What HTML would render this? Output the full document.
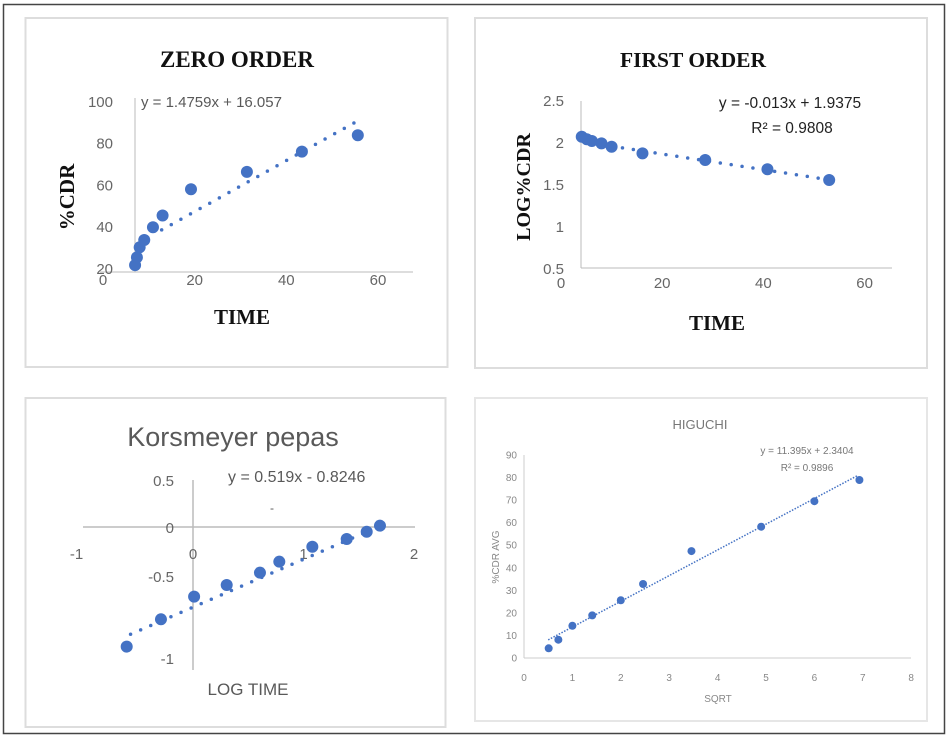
<!DOCTYPE html>
<html><head><meta charset="utf-8">
<style>
html,body{margin:0;padding:0;background:#fff;}
svg{display:block;}
.ser{font-family:"Liberation Serif",serif;font-weight:bold;fill:#111;}
.sans{font-family:"Liberation Sans",sans-serif;fill:#595959;}
</style></head>
<body>
<svg id="s" width="951" height="738" viewBox="0 0 951 738" xmlns="http://www.w3.org/2000/svg">
<rect x="3.5" y="4.5" width="941" height="729" fill="#fff" stroke="#444" stroke-width="1.5"/>
<rect x="25.5" y="18" width="422" height="349" fill="none" stroke="#ddd" stroke-width="2"/>
<rect x="475" y="18" width="452" height="350" fill="none" stroke="#ddd" stroke-width="2"/>
<rect x="25.5" y="398" width="420" height="329" fill="none" stroke="#ddd" stroke-width="2"/>
<rect x="475" y="398" width="452" height="323" fill="none" stroke="#e6e6e6" stroke-width="2"/>
<g id="g1"></g><g id="g2"></g><g id="g3"></g><g id="g4"></g>
</svg>
<script>
// Zero order
const zTime=[7.0,7.4,8.0,9.0,10.9,13.0,19.2,31.4,43.4,55.6];
const zCdr=[21.4,25.1,29.9,33.4,39.5,45.1,57.7,66,75.7,83.5];
const zTrend=[12.8,55.2];const zCoef=[1.22,22.6];
const zXTicks=[0,20,40,60];const zYTicks=[20,40,60,80,100];
// First order
const fTime=[4.1,5.1,6.1,8.0,10.0,16.1,28.5,40.8,53.0];
const fLog=[2.063,2.032,2.012,1.984,1.944,1.865,1.786,1.675,1.548];
const fTrend=[10,53];const fCoef=[-0.0093,2.043];
const fXTicks=[0,20,40,60];const fYTicks=[0.5,1,1.5,2,2.5];
// Korsmeyer
const kLogT=[-0.6,-0.29,0.01,0.305,0.606,0.781,1.08,1.391,1.572,1.692];
const kLogC=[-1.273,-0.982,-0.741,-0.617,-0.486,-0.369,-0.21,-0.128,-0.05,0.014];
const kTrend=[-0.565,1.572];const kCoef=[0.51,-0.853];
const kXTicks=[-1,0,1,2];const kYTicks=[0.5,0,-0.5,-1];
// Higuchi
const hSqrt=[0.51,0.71,1.0,1.41,2.0,2.46,3.46,4.9,6.0,6.93];
const hCdr=[4.3,8.1,14.3,18.9,25.6,32.8,47.4,58.2,69.5,78.9];
const hTrend=[0.5,6.9];const hCoef=[11.395,2.3404];
const hXTicks=[0,1,2,3,4,5,6,7,8];const hYTicks=[0,10,20,30,40,50,60,70,80,90];

const NS="http://www.w3.org/2000/svg";
function mk(p,tag,a,txt){const e=document.createElementNS(NS,tag);for(const k in a)e.setAttribute(k,a[k]);if(txt!==undefined)e.textContent=txt;p.appendChild(e);return e;}
const BLUE="#4472C4";
const DOT={stroke:BLUE,'stroke-width':3.5,'stroke-dasharray':'0 11','stroke-linecap':'round'};
function tl(g,o){const a=Object.assign({},o,DOT);return mk(g,'line',a);}

// Panel 1
(function(){
const g=document.getElementById('g1');
const X=v=>103+v*4.583, Y=v=>268-(v-20)*2.09;
let e=mk(g,'line',{x1:135,y1:98,x2:135,y2:272,stroke:'#bbb'});


e=mk(g,'line',{x1:100,y1:272,x2:413,y2:272,stroke:'#bbb'});


zXTicks.forEach(t=>{const l=mk(g,'text',{x:X(t),y:285,'text-anchor':'middle','font-size':15,class:'sans',style:'fill:#666'},t);

});
zYTicks.forEach(t=>{const l=mk(g,'text',{x:113,y:Y(t)+6,'text-anchor':'end','font-size':15,class:'sans',style:'fill:#666'},t);

});
e=tl(g,{x1:X(zTrend[0]),y1:Y(zCoef[0]*zTrend[0]+zCoef[1]),x2:X(zTrend[1]),y2:Y(zCoef[0]*zTrend[1]+zCoef[1])});


zTime.forEach((x,i)=>{const c=mk(g,'circle',{cx:X(x),cy:Y(zCdr[i]),r:6,fill:BLUE});

});
e=mk(g,'text',{x:237,y:67,'text-anchor':'middle','font-size':23,class:'ser'},'ZERO ORDER');


e=mk(g,'text',{x:141,y:107,'font-size':15,class:'sans'},'y = 1.4759x + 16.057');


e=mk(g,'text',{x:0,y:0,'text-anchor':'middle','font-size':21,class:'ser',transform:'translate(74,197) rotate(-90)'},'%CDR');


e=mk(g,'text',{x:242,y:324,'text-anchor':'middle','font-size':21,class:'ser'},'TIME');


})();

// Panel 2
(function(){
const g=document.getElementById('g2');
const X=v=>561+v*5.06, Y=v=>268-(v-0.5)*84;
let e=mk(g,'line',{x1:581,y1:101,x2:581,y2:268,stroke:'#bbb'});


e=mk(g,'line',{x1:581,y1:268,x2:892,y2:268,stroke:'#bbb'});


fXTicks.forEach(t=>{const l=mk(g,'text',{x:X(t),y:288,'text-anchor':'middle','font-size':15,class:'sans',style:'fill:#666'},t);

});
fYTicks.forEach(t=>{const l=mk(g,'text',{x:564,y:Y(t)+6,'text-anchor':'end','font-size':15,class:'sans',style:'fill:#666'},t);

});
e=tl(g,{x1:X(fTrend[0]),y1:Y(fCoef[0]*fTrend[0]+fCoef[1]),x2:X(fTrend[1]),y2:Y(fCoef[0]*fTrend[1]+fCoef[1])});


fTime.forEach((x,i)=>{const c=mk(g,'circle',{cx:X(x),cy:Y(fLog[i]),r:6,fill:BLUE});

});
e=mk(g,'text',{x:693,y:67,'text-anchor':'middle','font-size':21.5,class:'ser'},'FIRST ORDER');


e=mk(g,'text',{x:790,y:108,'text-anchor':'middle','font-size':15.5,class:'sans',style:'fill:#222'},'y = -0.013x + 1.9375');


e=mk(g,'text',{x:792,y:133,'text-anchor':'middle','font-size':15.5,class:'sans',style:'fill:#222'},'R² = 0.9808');


e=mk(g,'text',{x:0,y:0,'text-anchor':'middle','font-size':20,class:'ser',transform:'translate(530,187) rotate(-90)'},'LOG%CDR');


e=mk(g,'text',{x:717,y:330,'text-anchor':'middle','font-size':21,class:'ser'},'TIME');


})();

// Panel 3
(function(){
const g=document.getElementById('g3');
const X=v=>193+v*110.5, Y=v=>527-v*94;
let e=mk(g,'line',{x1:193,y1:480,x2:193,y2:670,stroke:'#bbb','stroke-width':1.5});


e=mk(g,'line',{x1:83,y1:527,x2:415,y2:527,stroke:'#bbb','stroke-width':1.5});


kXTicks.forEach(t=>{const l=mk(g,'text',{x:X(t)-(t===-1?6:0),y:559,'text-anchor':'middle','font-size':15,class:'sans',style:'fill:#666'},t);

});
const yl=[486,533,582,664];
kYTicks.forEach((t,i)=>{const l=mk(g,'text',{x:174,y:yl[i],'text-anchor':'end','font-size':15,class:'sans',style:'fill:#666'},t);

});
e=tl(g,{x1:X(kTrend[0]),y1:Y(kCoef[0]*kTrend[0]+kCoef[1]),x2:X(kTrend[1]),y2:Y(kCoef[0]*kTrend[1]+kCoef[1])});


kLogT.forEach((x,i)=>{const c=mk(g,'circle',{cx:X(x),cy:Y(kLogC[i]),r:6,fill:BLUE});

});
e=mk(g,'text',{x:233,y:446,'text-anchor':'middle','font-size':27,class:'sans'},'Korsmeyer pepas');


e=mk(g,'text',{x:228,y:482,'font-size':16,class:'sans'},'y = 0.519x - 0.8246');


e=mk(g,'text',{x:272,y:512,'text-anchor':'middle','font-size':12,class:'sans'},'-');


e=mk(g,'text',{x:248,y:695,'text-anchor':'middle','font-size':17,class:'sans'},'LOG TIME');


})();

// Panel 4
(function(){
const g=document.getElementById('g4');
const X=v=>524+v*48.4, Y=v=>658-v*2.256;
let e=mk(g,'line',{x1:524,y1:455,x2:524,y2:658,stroke:'#ccc'});


e=mk(g,'line',{x1:524,y1:658,x2:911,y2:658,stroke:'#ccc'});


hXTicks.forEach(t=>{const l=mk(g,'text',{x:X(t),y:681,'text-anchor':'middle','font-size':10,class:'sans',style:'fill:#888'},t);

});
hYTicks.forEach(t=>{const l=mk(g,'text',{x:517,y:Y(t)+3.5,'text-anchor':'end','font-size':10,class:'sans',style:'fill:#888'},t);

});
e=mk(g,'line',{x1:X(hTrend[0]),y1:Y(hCoef[0]*hTrend[0]+hCoef[1]),x2:X(hTrend[1]),y2:Y(hCoef[0]*hTrend[1]+hCoef[1]),stroke:BLUE,'stroke-width':1.5,'stroke-dasharray':'1.5 1.5'});


hSqrt.forEach((x,i)=>{const c=mk(g,'circle',{cx:X(x),cy:Y(hCdr[i]),r:4,fill:BLUE});

});
e=mk(g,'text',{x:700,y:429,'text-anchor':'middle','font-size':13,class:'sans',style:'fill:#777'},'HIGUCHI');


e=mk(g,'text',{x:807,y:454,'text-anchor':'middle','font-size':10,class:'sans',style:'fill:#777'},'y = 11.395x + 2.3404');


e=mk(g,'text',{x:807,y:471,'text-anchor':'middle','font-size':10,class:'sans',style:'fill:#777'},'R² = 0.9896');


e=mk(g,'text',{x:0,y:0,'text-anchor':'middle','font-size':10,class:'sans',style:'fill:#888',transform:'translate(499,557) rotate(-90)'},'%CDR AVG');


e=mk(g,'text',{x:718,y:702,'text-anchor':'middle','font-size':10,class:'sans',style:'fill:#888'},'SQRT');


})();
</script>
</body></html>
